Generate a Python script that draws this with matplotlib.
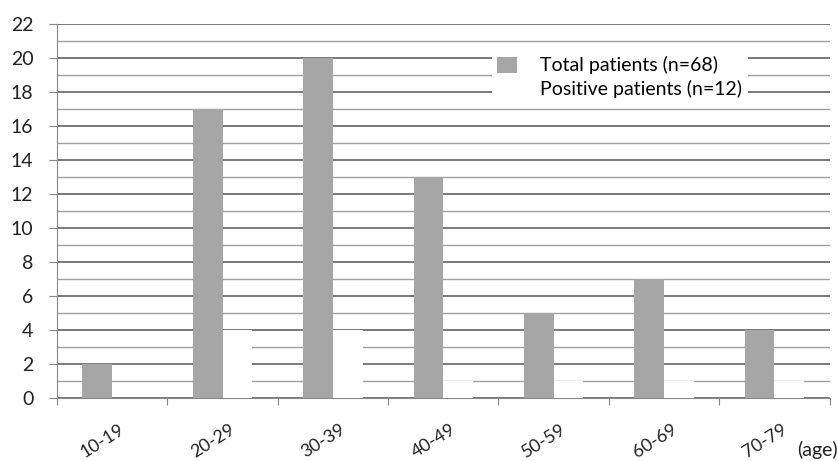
import matplotlib.pyplot as plt
import matplotlib.transforms as mtransforms
import numpy as np
from matplotlib.patches import Patch
from matplotlib.ticker import MultipleLocator

# age groups and counts
age_groups = ['10-19', '20-29', '30-39', '40-49', '50-59', '60-69', '70-79']
total_patients = [2, 17, 20, 13, 5, 7, 4]
positive_patients = [0, 4, 4, 1, 1, 1, 1]
yticks = np.arange(0, 23, 2)

plt.rcParams['font.family'] = ['Lato', 'DejaVu Sans']

fig = plt.figure(figsize=(8.38, 4.61), dpi=100)
ax = fig.add_axes([0.068, 0.137, 0.922, 0.811])

x = np.arange(len(age_groups))
w = 0.27
grey = '#a6a6a6'

ax.bar(x - w / 2, total_patients, width=w, color=grey, zorder=3,
       label='Total patients (n=68)')
ax.bar(x + w / 2, positive_patients, width=w, color='white', zorder=3,
       label='Positive patients (n=12)')

# axes and grid
ax.set_xlim(-0.5, len(age_groups) - 0.5)
ax.set_ylim(0, 22)
ax.set_yticks(yticks)
ax.yaxis.set_minor_locator(MultipleLocator(1))
ax.grid(axis='y', which='major', color='#6e6e6e', linewidth=1.3, zorder=0)
ax.grid(axis='y', which='minor', color='#a0a0a0', linewidth=1.0, zorder=0)
ax.set_axisbelow(True)

ax.set_xticks(np.arange(-0.5, len(age_groups)), minor=False)
ax.set_xticklabels([])
ax.set_xticks(x, minor=True)
ax.set_xticklabels(age_groups, minor=True, rotation=32, ha='right', va='center',
                   rotation_mode='anchor', fontsize=13, color='#222222')
ax.tick_params(axis='x', which='minor', length=0, pad=22)
ax.tick_params(axis='x', which='major', length=5, color='#888888', direction='out')
ax.tick_params(axis='y', which='major', length=6, color='#888888',
               labelsize=14, labelcolor='#222222', pad=11)
ax.tick_params(axis='y', which='minor', length=0)

# nudge the rotated labels so their upper end sits under the category centre
shift = mtransforms.ScaledTranslation(8 / 72, 0, fig.dpi_scale_trans)
for lbl in ax.get_xticklabels(minor=True):
    lbl.set_transform(lbl.get_transform() + shift)

for side in ['top', 'right']:
    ax.spines[side].set_visible(False)
ax.spines['left'].set_color('#888888')
ax.spines['bottom'].set_color('#888888')

ax.text(1.01, -0.14, '(age)', transform=ax.transAxes, ha='right', va='center',
        fontsize=14, color='#222222')

handles = [Patch(facecolor=grey, edgecolor='none'),
           Patch(facecolor='white', edgecolor='none')]
leg = ax.legend(handles, ['Total patients (n=68)', 'Positive patients (n=12)'],
                loc='upper left', bbox_to_anchor=(0.55, 0.955), fontsize=14,
                frameon=True, fancybox=False, framealpha=1.0,
                handlelength=1.0, handleheight=0.9, handletextpad=1.2,
                labelspacing=0.3, borderpad=0.3)
leg.get_frame().set_facecolor('white')
leg.get_frame().set_edgecolor('none')
leg.set_zorder(5)

plt.savefig('out.png', dpi=100)
